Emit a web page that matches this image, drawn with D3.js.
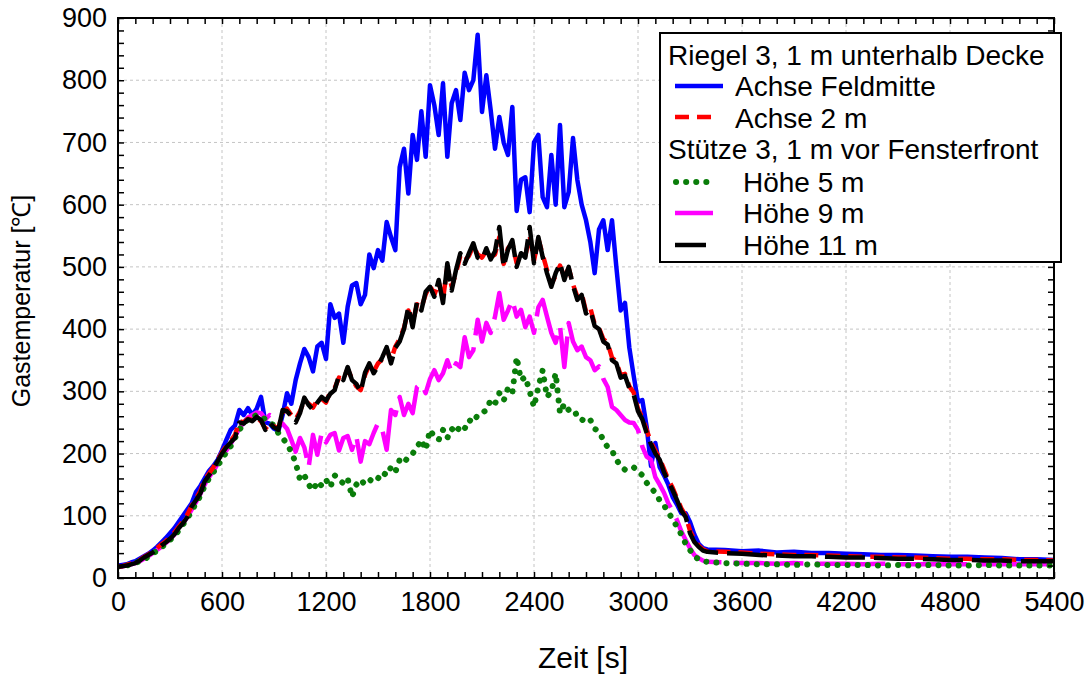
<!DOCTYPE html>
<html><head><meta charset="utf-8">
<script src="https://cdn.jsdelivr.net/npm/d3@7"></script>
<style>
body{margin:0;background:#fff}
svg{display:block}
text{font-family:"Liberation Sans",Arial,sans-serif;fill:#000}
</style>
</head><body>
<svg id="c" width="1092" height="674"></svg>
<script>
// time grid [s]
const timeMain = d3.range(0, 3401, 25);
const timeTail = d3.range(3500, 5401, 100);
const xTickLabels = [0,600,1200,1800,2400,3000,3600,4200,4800,5400];
const yTickLabels = [0,100,200,300,400,500,600,700,800,900];

// Riegel 3 – Achse Feldmitte (blue)
const achseFeldmitte = [
20,21,22,25,27,31,35,39,44,50,57,64,72,80,90,100,110,120,138,148,
160,172,180,190,205,222,238,245,270,262,273,262,272,291,250,248,240,236,262,297,
280,318,345,368,355,332,372,378,352,440,418,425,378,436,470,474,440,455,520,498,
527,510,572,548,527,660,690,618,712,672,750,677,792,760,712,795,677,763,784,736,
812,784,800,873,749,808,752,690,741,700,680,757,590,640,644,588,700,712,612,596,
680,600,728,596,620,707,640,600,575,540,490,560,575,527,575,500,430,442,370,325,
283,286,243,180,217,178,165,150,130,118,104,104,90,70,55,48,46,
45,43,44,41,42,40,40,39,38,37,37,36,35,34,34,33,32,30,30,29];

// Riegel 3 – Achse 2 m (red dashed)
const achse2m = [
18,19,21,23,25,29,34,38,43,48,54,59,66,73,82,91,102,116,128,140,
158,168,178,190,202,212,220,230,252,250,256,254,258,252,240,248,244,240,266,272,
262,255,268,286,280,274,286,288,282,300,305,322,320,336,320,308,302,326,342,332,
345,352,368,350,372,384,402,430,410,440,434,456,470,455,475,448,500,468,490,518,
510,518,534,520,515,526,516,520,548,505,530,538,506,520,518,550,510,545,520,495,
472,486,502,484,498,472,452,458,428,434,408,402,384,378,354,348,326,328,308,298,
272,258,238,218,205,192,175,158,145,128,112,100,76,62,52,46,43,
42,41,39,38,37,37,36,35,34,34,33,33,32,31,31,30,30,29,29,28];

// Stütze 3 – Höhe 5 m (green dotted)
const hoehe5m = [
18,19,20,22,24,27,30,34,39,44,49,55,61,68,76,86,96,108,120,132,
148,160,170,180,192,202,212,225,238,248,255,258,262,260,255,250,245,233,225,215,
203,185,158,165,150,141,155,148,158,146,165,158,152,160,130,150,158,150,155,163,
160,170,165,178,170,190,185,195,200,210,222,206,238,227,222,238,225,240,233,245,
240,254,250,262,265,270,286,280,297,285,305,297,355,318,323,300,275,307,334,291,
300,329,265,280,270,262,265,255,250,254,240,235,222,210,205,190,180,174,176,178,
172,165,153,145,137,125,117,105,95,82,70,55,45,35,30,27,26,
24,23,22,22,21,22,21,21,21,20,21,20,21,20,20,21,20,20,20,20];

// Stütze 3 – Höhe 9 m (magenta)
const hoehe9m = [
18,19,20,22,24,27,31,35,40,45,50,56,62,70,78,88,98,110,122,135,
150,162,172,183,196,205,215,228,240,250,258,262,266,265,255,262,258,250,248,240,
222,203,225,210,178,230,198,233,218,230,233,205,225,228,206,228,187,220,215,233,
249,238,206,270,262,291,262,280,265,307,313,297,320,334,318,329,350,330,345,339,
387,355,366,415,380,410,394,420,458,415,430,447,420,431,403,420,394,435,447,420,
394,378,405,339,410,380,366,372,355,350,334,340,320,307,275,270,262,254,250,249,
238,211,195,190,162,150,137,120,108,93,75,61,48,37,32,28,26,
25,24,24,23,24,23,23,23,22,23,22,22,22,22,22,22,22,22,22,22];

// Stütze 3 – Höhe 11 m (black)
const hoehe11m = [
18,19,20,22,24,28,33,37,41,46,52,57,63,70,80,88,98,115,125,136,
155,165,175,188,200,210,218,225,250,248,255,252,259,254,238,250,242,238,270,268,
260,250,265,290,278,270,282,291,285,296,302,326,318,339,318,312,299,330,345,329,
340,355,371,345,370,380,400,436,403,444,430,460,468,452,479,442,506,462,495,522,
505,522,538,515,511,530,512,525,564,500,528,543,500,522,515,564,506,548,516,490,
468,490,506,479,500,470,447,455,425,431,405,400,380,375,350,345,322,325,305,295,
268,255,233,215,200,190,170,155,141,125,108,98,72,58,50,44,42,
40,39,37,36,35,35,34,33,33,32,31,31,30,29,29,28,28,27,27,27];

const seriesNames = ["Achse Feldmitte","Achse 2 m","Höhe 5 m","Höhe 9 m","Höhe 11 m"];
const timeAll = timeMain.concat(timeTail);

const svg = d3.select("#c");
const L=118,R=1054,T=18,B=578;
const x = d3.scaleLinear().domain([0,5400]).range([L,R]);
const y = d3.scaleLinear().domain([0,900]).range([B,T]);

// gridlines
const grid = svg.append("g").attr("stroke","#c4c4c4").attr("stroke-width",1).attr("stroke-dasharray","3,3");
xTickLabels.slice(1,-1).forEach(v=>grid.append("line").attr("x1",x(v)).attr("x2",x(v)).attr("y1",T).attr("y2",B));
yTickLabels.slice(1,-1).forEach(v=>grid.append("line").attr("x1",L).attr("x2",R).attr("y1",y(v)).attr("y2",y(v)));

// data lines
svg.append("defs").append("clipPath").attr("id","clip").append("rect")
  .attr("x",L).attr("y",T-2).attr("width",R-L).attr("height",B-T+2);
const line = d3.line().x((d,i)=>x(timeAll[i])).y(d=>y(d));
const styles = [
  {data:achseFeldmitte, color:"#0000ff", dash:null, w:4.5, cap:"butt"},
  {data:hoehe9m, color:"#ff00ff", dash:"70,12", w:4.5, cap:"butt"},
  {data:hoehe5m, color:"#0a7d0a", dash:"0.1,10", w:6, cap:"round"},
  {data:achse2m, color:"#ff0000", dash:"14,8", w:4.5, cap:"butt"},
  {data:hoehe11m, color:"#000000", dash:"40,9", w:4.5, cap:"butt"}
];
const lg = svg.append("g").attr("clip-path","url(#clip)");
styles.forEach(s=>{
  lg.append("path").attr("d",line(s.data)).attr("fill","none")
    .attr("stroke",s.color).attr("stroke-width",s.w).attr("stroke-linejoin","round")
    .attr("stroke-linecap",s.cap).attr("stroke-dasharray",s.dash);
});

// minor/major inward ticks on all four sides
function tickAxis(gen, tf){
  const g = svg.append("g").attr("transform",tf).call(gen);
  g.select(".domain").remove();
  g.selectAll("text").remove();
  g.selectAll("line").attr("stroke","#000").attr("stroke-width",1.5);
}
const xMinor = d3.range(0,5401,100), yMinor = d3.range(0,901,20);
tickAxis(d3.axisBottom(x).tickValues(xMinor).tickSize(-6), `translate(0,${B})`);
tickAxis(d3.axisTop(x).tickValues(xMinor).tickSize(-6), `translate(0,${T})`);
tickAxis(d3.axisLeft(y).tickValues(yMinor).tickSize(-6), `translate(${L},0)`);
tickAxis(d3.axisRight(y).tickValues(yMinor).tickSize(-6), `translate(${R},0)`);

// tick labels
const xl = svg.append("g").attr("transform",`translate(0,${B})`)
  .call(d3.axisBottom(x).tickValues(xTickLabels).tickSize(0).tickPadding(14).tickFormat(d3.format("d")));
xl.select(".domain").remove();
xl.selectAll("text").attr("font-size",27).attr("font-family","Liberation Sans, Arial, sans-serif").attr("fill","#000");
const yl = svg.append("g").attr("transform",`translate(${L},0)`)
  .call(d3.axisLeft(y).tickValues(yTickLabels).tickSize(0).tickPadding(11).tickFormat(d3.format("d")));
yl.select(".domain").remove();
yl.selectAll("text").attr("font-size",27).attr("font-family","Liberation Sans, Arial, sans-serif").attr("fill","#000");

// frame
svg.append("rect").attr("x",L).attr("y",T).attr("width",R-L).attr("height",B-T)
  .attr("fill","none").attr("stroke","#000").attr("stroke-width",2);

// axis titles
svg.append("text").attr("x",583).attr("y",668).attr("text-anchor","middle")
  .attr("font-size",30).text("Zeit [s]");
svg.append("text").attr("transform","translate(30,301) rotate(-90)").attr("text-anchor","middle")
  .attr("font-size",25).text("Gastemperatur [℃]");

// legend
const leg = svg.append("g");
leg.append("rect").attr("x",660).attr("y",33).attr("width",401).attr("height",229)
  .attr("fill","#fff").attr("stroke","#000").attr("stroke-width",2);
const fs = 28;
function ltext(tx,ty,t){ leg.append("text").attr("x",tx).attr("y",ty).attr("font-size",fs).text(t); }
function lline(x1,x2,yy,s){
  leg.append("line").attr("x1",x1).attr("x2",x2).attr("y1",yy).attr("y2",yy)
    .attr("stroke",s.color).attr("stroke-width",s.w).attr("stroke-linecap",s.cap).attr("stroke-dasharray",s.dash);
}
ltext(668,65,"Riegel 3, 1 m unterhalb Decke");
lline(675,723,86,styles[0]); ltext(735,96,seriesNames[0]);
lline(675,712,117,styles[3]); ltext(735,128,seriesNames[1]);
ltext(668,159,"Stütze 3, 1 m vor Fensterfront");
lline(676,715,182,styles[2]); ltext(743,192,seriesNames[2]);
lline(675,713,213,styles[1]); ltext(743,223,seriesNames[3]);
lline(675,706,245,styles[4]); ltext(743,255,seriesNames[4]);
</script>
</body></html>
